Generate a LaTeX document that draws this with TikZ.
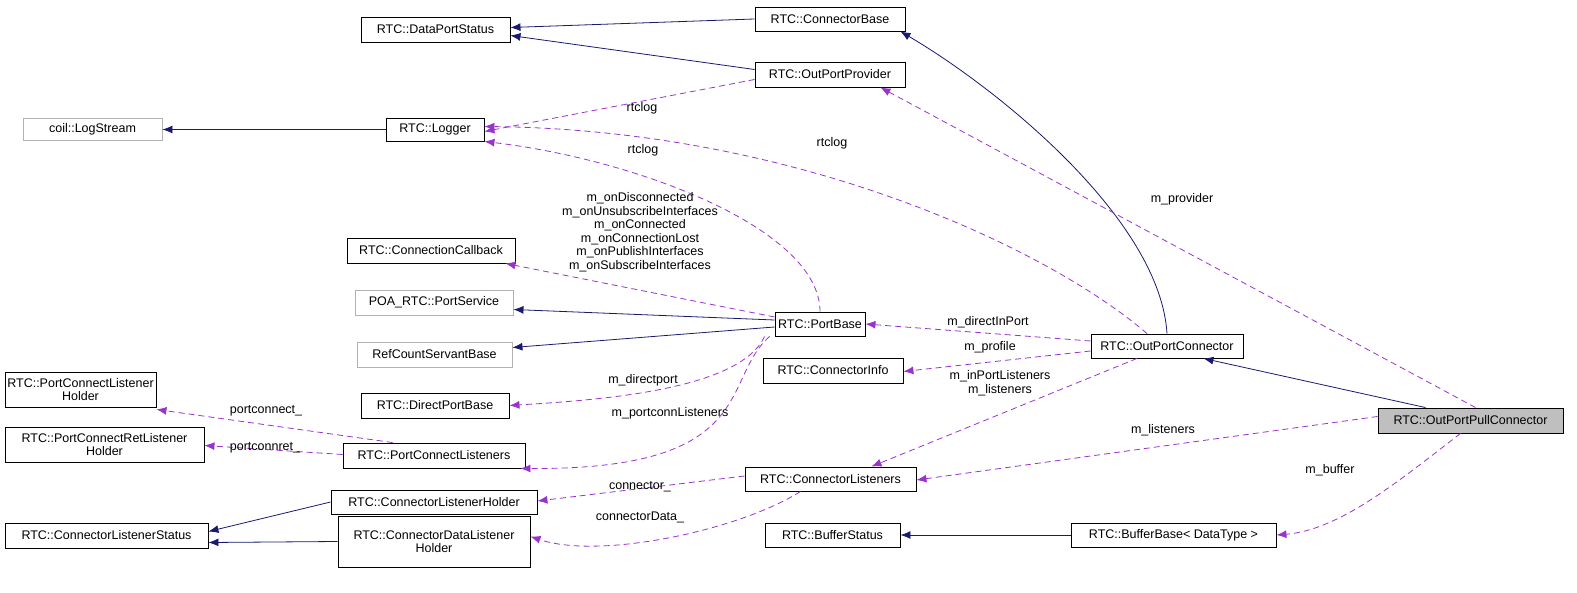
\documentclass[tikz,border=0pt]{standalone}
\usepackage{fontspec}
\setmainfont{Liberation Sans}
\usetikzlibrary{arrows.meta}
\definecolor{navy}{HTML}{191970}
\definecolor{purp}{HTML}{9A32CD}
\begin{document}
\begin{tikzpicture}[x=1pt,y=-1pt,
  box/.style={draw=black,line width=0.9pt,fill=white,inner sep=0.5pt,align=center,font=\fontsize{12.5}{13.5}\selectfont},
  gbox/.style={box,draw=gray!60},
  inh/.style={draw=navy,line width=0.8pt,-{Latex[length=10pt,width=8pt]}},
  use/.style={draw=purp,line width=0.8pt,dash pattern=on 6pt off 4pt,-{Latex[length=10pt,width=8pt]}},
  lbl/.style={inner sep=0pt,align=center,font=\fontsize{12.5}{13.5}\selectfont}]
\useasboundingbox (0,0) rectangle (1577,593);
\newcommand\nd[7]{\node[#7,minimum width=#4-#2,minimum height=#5-#3] (#1) at ({(#2+#4)/2},{(#3+#5)/2}) {#6};}
\nd{dps}{361}{17}{510}{42}{RTC::DataPortStatus}{box}
\nd{cb}{755}{7}{905}{31}{RTC::ConnectorBase}{box}
\nd{opp}{755}{62}{905}{87}{RTC::OutPortProvider}{box}
\nd{ls}{23}{118}{162}{140}{coil::LogStream}{gbox}
\nd{log}{386}{118}{484}{141}{RTC::Logger}{box}
\nd{cc}{347}{238}{515}{263}{RTC::ConnectionCallback}{box}
\nd{ps}{355}{290}{513}{315}{POA\_RTC::PortService}{gbox}
\nd{pb}{775}{312}{865}{336}{RTC::PortBase}{box}
\nd{rcsb}{357}{342}{512}{367}{RefCountServantBase}{gbox}
\nd{opc}{1091}{334}{1243}{358}{RTC::OutPortConnector}{box}
\nd{ci}{763}{358}{903}{383}{RTC::ConnectorInfo}{box}
\nd{pclh}{5}{372}{156}{407}{RTC::PortConnectListener\\Holder}{box}
\nd{dpb}{361}{393}{509}{418}{RTC::DirectPortBase}{box}
\nd{pcrlh}{5}{427}{204}{462}{RTC::PortConnectRetListener\\Holder}{box}
\nd{pcls}{343}{443}{525}{468}{RTC::PortConnectListeners}{box}
\nd{cls}{745}{467}{916}{491}{RTC::ConnectorListeners}{box}
\nd{oppc}{1378}{408}{1563}{433}{RTC::OutPortPullConnector}{box,fill=gray!50}
\nd{clh}{331}{490}{537}{514}{RTC::ConnectorListenerHolder}{box}
\nd{clst}{5}{523}{208}{548}{RTC::ConnectorListenerStatus}{box}
\nd{bs}{765}{523}{900}{547}{RTC::BufferStatus}{box}
\nd{bb}{1071}{523}{1276}{547}{RTC::BufferBase< DataType >}{box}
\nd{cdlh}{338}{516}{530}{567}{RTC::ConnectorDataListener\\Holder}{box}
% inheritance
\draw[inh] (cb.west) -- ([yshift=2pt]dps.east);
\draw[inh] ([yshift=5pt]opp.west) -- ([yshift=-6pt]dps.east);
\draw[inh] (log.west) -- (ls.east |- log.west);
\draw[inh] (opc.north) .. controls (1160,220) and (1000,90) .. ([xshift=-5pt]cb.south east);
\draw[inh] ([yshift=4pt]pb.west) -- ([yshift=-7pt]ps.east);
\draw[inh] ([yshift=-3pt]pb.west) -- ([yshift=7pt]rcsb.east);
\draw[inh] ([xshift=-45pt]oppc.north) -- ([xshift=-40pt]opc.south east);
\draw[inh] (bb.west) -- (bs.east);
\draw[inh] (clh.west) -- ([yshift=4pt]clst.east);
\draw[inh] (cdlh.west) -- ([yshift=-7pt]clst.east);
% usage
\draw[use] ([yshift=-5pt]opp.west) -- ([yshift=-2pt]log.east);
\node[lbl] (l1) at (642,108) {rtclog};
\draw[use] ([xshift=-20pt]opc.north) .. controls (1050,250) and (800,130) .. ([yshift=3pt]log.east);
\node[lbl] (l2) at (832,143) {rtclog};
\draw[use] (pb.north) .. controls (820,230) and (640,160) .. (log.south east);
\node[lbl] (l3) at (643,150) {rtclog};
\draw[use] ([yshift=7pt]pb.west) -- ([xshift=-10pt]cc.south east);
\node[lbl] (l4) at (640,232) {m\_onDisconnected\\m\_onUnsubscribeInterfaces\\m\_onConnected\\m\_onConnectionLost\\m\_onPublishInterfaces\\m\_onSubscribeInterfaces};
\draw[use] ([xshift=5pt]oppc.north) -- ([xshift=-25pt]opp.south east);
\node[lbl] (l5) at (1182,199) {m\_provider};
\draw[use] ([yshift=5pt]opc.west) -- (pb.east);
\node[lbl] (l6) at (988,322) {m\_directInPort};
\draw[use] ([yshift=-5pt]opc.west) -- ([yshift=-1pt]ci.east);
\node[lbl] (l7) at (990,347) {m\_profile};
\draw[use] ([xshift=-30pt]opc.south) -- ([xshift=-45pt]cls.north east);
\node[lbl] (l8) at (1000,383) {m\_inPortListeners\\m\_listeners};
\draw[use] ([yshift=4pt]oppc.west) -- ([yshift=-1pt]cls.east);
\node[lbl] (l9) at (1163,430) {m\_listeners};
\draw[use] ([xshift=-10pt]oppc.south) .. controls (1400,480) and (1340,530) .. (bb.east);
\node[lbl] (l10) at (1330,470) {m\_buffer};
\draw[use] ([xshift=-10pt]pb.south west) .. controls (740,390) and (600,400) .. (dpb.east);
\node[lbl] (l11) at (643,380) {m\_directport};
\draw[use] ([xshift=-5pt]pb.south west) .. controls (720,380) and (760,470) .. ([xshift=-5pt]pcls.south east);
\node[lbl] (l12) at (670,413) {m\_portconnListeners};
\draw[use] ([xshift=50pt]pcls.north west) -- ([yshift=-2pt]pclh.south east);
\node[lbl] (l13) at (266,411) {portconnect\_};
\draw[use] ([yshift=1pt]pcls.west) -- ([yshift=-1pt]pcrlh.east);
\node[lbl] (l14) at (265,448) {portconnret\_};
\draw[use] ([yshift=3pt]cls.west) -- ([yshift=1pt]clh.east);
\node[lbl] (l15) at (640,487) {connector\_};
\draw[use] ([xshift=-30pt]cls.south) .. controls (740,530) and (600,560) .. ([yshift=5pt]cdlh.east);
\node[lbl] (l16) at (640,517) {connectorData\_};
\end{tikzpicture}
\end{document}
